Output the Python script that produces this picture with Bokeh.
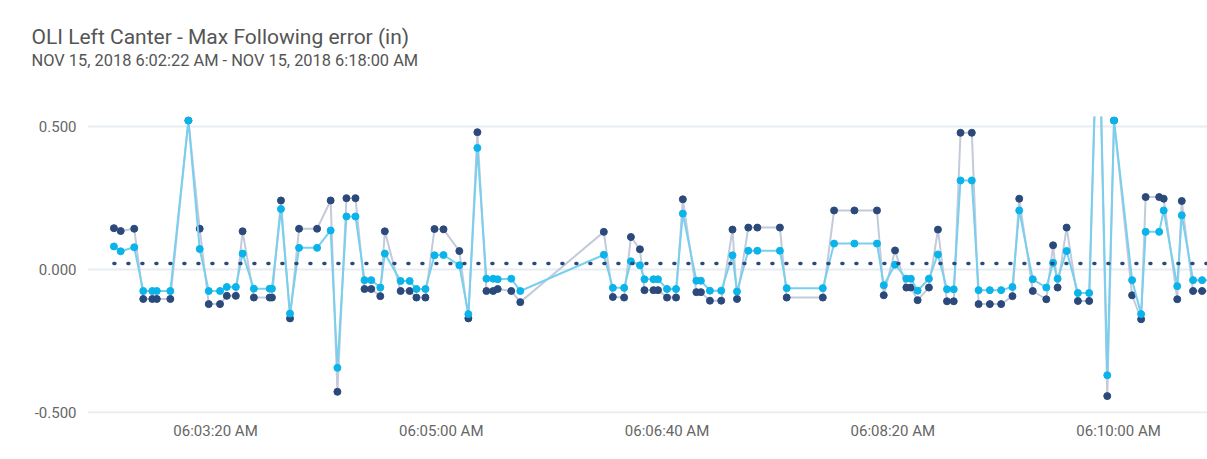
import pandas as pd
from bokeh.plotting import figure
from bokeh.models import (Title, DatetimeTickFormatter, SingleIntervalTicker, Range1d,
                          FixedTicker, PrintfTickFormatter)
from bokeh.embed import file_html
from bokeh.resources import INLINE

DAY = "2018-11-15 "
TITLE = "OLI Left Canter -  Max Following error (in)"
SUBTITLE = "NOV 15, 2018 6:02:22 AM - NOV 15, 2018 6:18:00 AM"

times = [
    "06:02:35", "06:02:38", "06:02:44", "06:02:48", "06:02:52", "06:02:54", "06:03:00",
    "06:03:08", "06:03:13", "06:03:17", "06:03:22", "06:03:25", "06:03:29", "06:03:32",
    "06:03:37", "06:03:44", "06:03:45", "06:03:49", "06:03:53", "06:03:57", "06:04:05",
    "06:04:11", "06:04:14", "06:04:18", "06:04:22", "06:04:26", "06:04:29", "06:04:33",
    "06:04:35", "06:04:42", "06:04:46", "06:04:49", "06:04:53", "06:04:57", "06:05:01",
    "06:05:08", "06:05:12", "06:05:16", "06:05:20", "06:05:23", "06:05:25", "06:05:31",
    "06:05:35", "06:06:12", "06:06:16", "06:06:21", "06:06:24", "06:06:28", "06:06:30",
    "06:06:34", "06:06:36", "06:06:40", "06:06:44", "06:06:47", "06:06:53", "06:06:55",
    "06:06:59", "06:07:04", "06:07:09", "06:07:11", "06:07:16", "06:07:20", "06:07:30",
    "06:07:33", "06:07:49", "06:07:54", "06:08:03", "06:08:13", "06:08:16", "06:08:21",
    "06:08:26", "06:08:28", "06:08:31", "06:08:36", "06:08:40", "06:08:44", "06:08:47",
    "06:08:50", "06:08:55", "06:08:58", "06:09:03", "06:09:08", "06:09:13", "06:09:16",
    "06:09:22", "06:09:28", "06:09:31", "06:09:33", "06:09:37", "06:09:42", "06:09:47",
    "06:09:51", "06:09:55", "06:09:58", "06:10:06", "06:10:10", "06:10:12", "06:10:18",
    "06:10:20", "06:10:26", "06:10:28", "06:10:33", "06:10:37", "06:10:43",
]

error_dark = [
    0.144, 0.134, 0.142, -0.104, -0.104, -0.104, -0.104,
    0.521, 0.142, -0.122, -0.122, -0.093, -0.093, 0.133,
    -0.099, -0.099, -0.099, 0.241, -0.172, 0.142, 0.142,
    0.241, -0.429, 0.249, 0.249, -0.069, -0.069, -0.094,
    0.133, -0.076, -0.076, -0.099, -0.099, 0.141, 0.140,
    0.064, -0.172, 0.480, -0.076, -0.076, -0.069, -0.076,
    -0.115, 0.131, -0.097, -0.099, 0.113, 0.070, -0.073,
    -0.073, -0.073, -0.099, -0.099, 0.245, -0.080, -0.080,
    -0.110, -0.110, 0.139, -0.104, 0.146, 0.146, 0.146,
    -0.099, -0.099, 0.206, 0.206, 0.206, -0.091, 0.066,
    -0.064, -0.064, -0.108, -0.064, 0.139, -0.112, -0.112,
    0.478, 0.478, -0.122, -0.122, -0.122, -0.094, 0.247,
    -0.076, -0.105, 0.084, -0.064, 0.146, -0.111, -0.111,
    1.000, -0.444, 0.521, -0.091, -0.175, 0.253, 0.253,
    0.247, -0.105, 0.239, -0.076, -0.076, -0.076,
]

error_light = [
    0.080, 0.063, 0.077, -0.076, -0.076, -0.076, -0.076,
    0.521, 0.071, -0.076, -0.076, -0.062, -0.062, 0.055,
    -0.068, -0.068, -0.068, 0.211, -0.155, 0.075, 0.075,
    0.136, -0.345, 0.185, 0.185, -0.038, -0.038, -0.064,
    0.055, -0.041, -0.041, -0.069, -0.069, 0.049, 0.050,
    0.014, -0.157, 0.425, -0.033, -0.033, -0.035, -0.033,
    -0.076, 0.051, -0.065, -0.065, 0.028, 0.014, -0.035,
    -0.035, -0.035, -0.069, -0.069, 0.195, -0.040, -0.040,
    -0.075, -0.075, 0.049, -0.078, 0.065, 0.065, 0.065,
    -0.066, -0.066, 0.090, 0.090, 0.090, -0.056, 0.016,
    -0.033, -0.033, -0.075, -0.033, 0.052, -0.070, -0.070,
    0.311, 0.311, -0.073, -0.073, -0.073, -0.062, 0.206,
    -0.035, -0.064, 0.023, -0.033, 0.064, -0.083, -0.083,
    1.000, -0.371, 0.521, -0.038, -0.157, 0.131, 0.131,
    0.206, -0.059, 0.189, -0.038, -0.038, -0.038,
]

ref_times = ["06:02:35", "06:10:43"]
ref_values = [0.02, 0.02]

y_ticks = [-0.5, 0.0, 0.5]
x_start = "06:02:23.3"
x_end = "06:10:39.4"

x = pd.to_datetime([DAY + t for t in times])
xr = pd.to_datetime([DAY + t for t in ref_times])

NAVY = "#2b4a7b"
NAVY_LINE = "#c3cadb"
CYAN = "#0ab4ea"
CYAN_LINE = "#78cfee"
FONT = "Roboto"

p = figure(
    width=1207, height=459, title=None,
    x_axis_type="datetime",
    x_range=Range1d(pd.Timestamp(DAY + x_start), pd.Timestamp(DAY + x_end)),
    y_range=Range1d(-0.505, 0.535),
    output_backend="svg", toolbar_location=None,
    min_border_left=87, min_border_right=0, min_border_top=116, min_border_bottom=46,
)
p.outline_line_color = None
p.background_fill_color = "white"
p.border_fill_color = "white"

# stacked from the plot frame upwards: spacer, subtitle, title
p.add_layout(Title(text=" ", text_font_size="1px", standoff=44), "above")
p.add_layout(Title(text=SUBTITLE, align="left", text_font=FONT, text_font_size="16.4px",
                   text_font_style="normal", text_color="#555555", offset=-56, standoff=0), "above")
p.add_layout(Title(text=TITLE, align="left", text_font=FONT, text_font_size="21px",
                   text_font_style="normal", text_color="#555555", offset=-56, standoff=0), "above")

p.line(x, error_dark, line_color=NAVY_LINE, line_width=2)
p.scatter(x, error_dark, size=7, fill_color=NAVY, line_color=NAVY)
p.line(x, error_light, line_color=CYAN_LINE, line_width=2)
p.scatter(x, error_light, size=7, fill_color=CYAN, line_color=CYAN)
p.line(xr, ref_values, line_color=NAVY, line_width=3.5, line_dash="1 13", line_cap="round")

p.xgrid.visible = False
p.ygrid.grid_line_color = "#e8edf2"
p.ygrid.grid_line_width = 2

p.yaxis.ticker = FixedTicker(ticks=y_ticks)
p.yaxis.formatter = PrintfTickFormatter(format="%.3f")
p.xaxis.ticker = SingleIntervalTicker(interval=100000, num_minor_ticks=0)
fmt = "%I:%M:%S %p"
p.xaxis.formatter = DatetimeTickFormatter(seconds=fmt, minsec=fmt, minutes=fmt,
                                          hourmin=fmt, hours=fmt)
for ax in (p.xaxis[0], p.yaxis[0]):
    ax.axis_line_color = None
    ax.major_tick_line_color = None
    ax.minor_tick_line_color = None
    ax.major_tick_out = 0
    ax.major_tick_in = 0
    ax.major_label_text_font = FONT
    ax.major_label_text_font_size = "15px"
    ax.major_label_text_color = "#666666"
p.yaxis.major_label_standoff = 11
p.xaxis.major_label_standoff = 8

open("out.html", "w").write(file_html(p, INLINE))
